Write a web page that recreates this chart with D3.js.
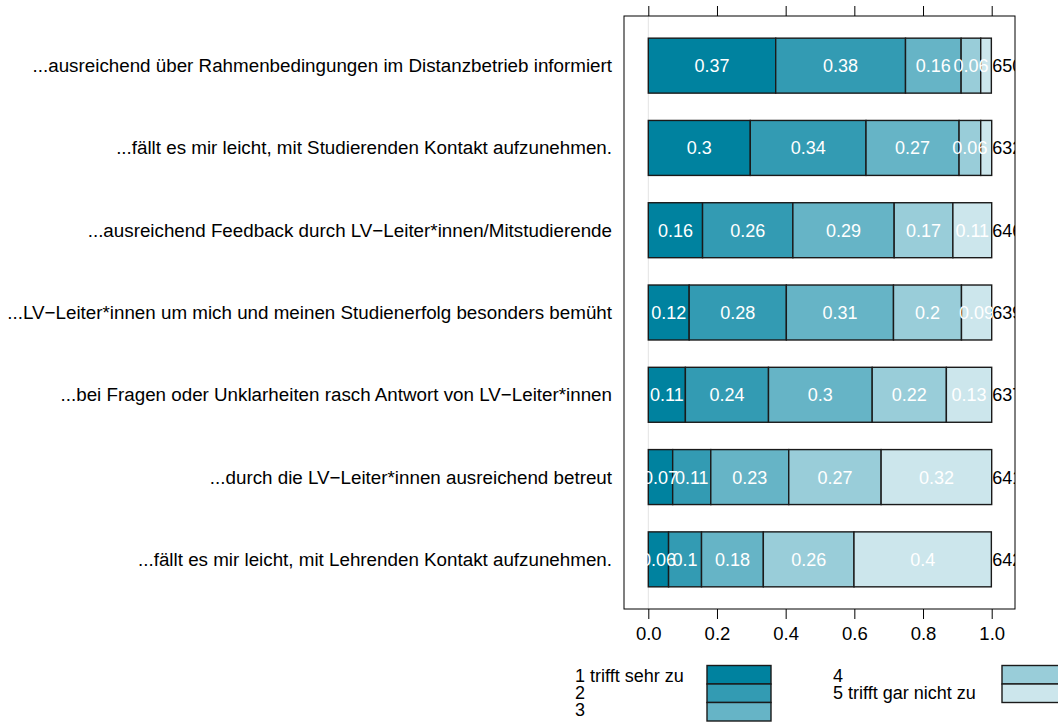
<!DOCTYPE html>
<html>
<head>
<meta charset="utf-8">
<script src="https://cdn.jsdelivr.net/npm/d3@7"></script>
<style>
  body { margin: 0; background: #fff; }
  svg { font-family: "Liberation Sans", Arial, Helvetica, sans-serif; }
</style>
</head>
<body>
<svg width="1058" height="722"></svg>
<script>
// items, top to bottom
var items = [
  "...ausreichend über Rahmenbedingungen im Distanzbetrieb informiert",
  "...fällt es mir leicht, mit Studierenden Kontakt aufzunehmen.",
  "...ausreichend Feedback durch LV\u2212Leiter*innen/Mitstudierende",
  "...LV\u2212Leiter*innen um mich und meinen Studienerfolg besonders bemüht",
  "...bei Fragen oder Unklarheiten rasch Antwort von LV\u2212Leiter*innen",
  "...durch die LV\u2212Leiter*innen ausreichend betreut",
  "...fällt es mir leicht, mit Lehrenden Kontakt aufzunehmen."
];
var counts = [650, 632, 646, 639, 637, 641, 642];

// shares per answer category (1..5), one value per item
var cat1 = [0.371, 0.297, 0.158, 0.119, 0.108, 0.071, 0.059];
var cat2 = [0.378, 0.337, 0.263, 0.283, 0.242, 0.111, 0.096];
var cat3 = [0.162, 0.271, 0.295, 0.312, 0.302, 0.227, 0.180];
var cat4 = [0.057, 0.063, 0.171, 0.198, 0.216, 0.269, 0.264];
var cat5 = [0.031, 0.032, 0.113, 0.088, 0.132, 0.322, 0.400];

var legendLabels = ["1 trifft sehr zu", "2", "3", "4", "5 trifft gar nicht zu"];
var colors = ["#00829f", "#339bb3", "#66b4c6", "#99cdd9", "#cce6ec"];
var xTicks = [0, 0.2, 0.4, 0.6, 0.8, 1.0];

var series = [cat1, cat2, cat3, cat4, cat5];
var fs = "18px";

var svg = d3.select("svg");

var box = { left: 624, right: 1015, top: 16, bottom: 609 };

var x = d3.scaleLinear().domain([0, 1]).range([648.3, 991.7]);
var y = d3.scaleBand().domain(items).range([24.5, 600.5])
    .paddingInner(0.332).paddingOuter(0.166);

// clip for the plot region
svg.append("defs").append("clipPath").attr("id", "plotclip")
  .append("rect")
    .attr("x", box.left).attr("y", box.top)
    .attr("width", box.right - box.left).attr("height", box.bottom - box.top);

var plot = svg.append("g").attr("clip-path", "url(#plotclip)");

// zero reference line
plot.append("line")
    .attr("x1", x(0)).attr("x2", x(0))
    .attr("y1", box.top).attr("y2", box.bottom)
    .attr("stroke", "#e3e3e3").attr("stroke-width", 1);

// stacked segments
var segs = [];
items.forEach(function(it, i) {
  var acc = 0;
  series.forEach(function(s, k) {
    segs.push({ item: it, k: k, x0: acc, x1: acc + s[i], v: s[i] });
    acc += s[i];
  });
});

plot.selectAll(".seg")
  .data(segs)
  .enter().append("rect")
    .attr("class", "seg")
    .attr("x", d => x(d.x0))
    .attr("y", d => y(d.item))
    .attr("width", d => x(d.x1) - x(d.x0))
    .attr("height", y.bandwidth())
    .attr("fill", d => colors[d.k])
    .attr("stroke", "#1a1a1a")
    .attr("stroke-width", 1.4);

plot.selectAll(".val")
  .data(segs.filter(d => d.v >= 0.05))
  .enter().append("text")
    .attr("class", "val")
    .attr("x", d => x((d.x0 + d.x1) / 2))
    .attr("y", d => y(d.item) + y.bandwidth() / 2 + 6.5)
    .attr("text-anchor", "middle")
    .attr("fill", "#fff")
    .style("font-size", fs)
    .text(d => String(+d.v.toFixed(2)));

plot.selectAll(".cnt")
  .data(items)
  .enter().append("text")
    .attr("class", "cnt")
    .attr("x", x(1) + 0.5)
    .attr("y", d => y(d) + y.bandwidth() / 2 + 6.5)
    .style("font-size", fs)
    .text((d, i) => counts[i]);

// frame
svg.append("rect")
    .attr("x", box.left).attr("y", box.top)
    .attr("width", box.right - box.left).attr("height", box.bottom - box.top)
    .attr("fill", "none").attr("stroke", "#000").attr("stroke-width", 1);

// bottom axis
var axB = svg.append("g")
    .attr("transform", "translate(0," + box.bottom + ")")
    .call(d3.axisBottom(x).tickValues(xTicks).tickFormat(d3.format(".1f"))
      .tickSize(10).tickPadding(8));
axB.select(".domain").remove();
axB.selectAll("text").attr("fill", "#000")
    .style("font-size", "18.5px")
    .style("font-family", "Liberation Sans, Arial, sans-serif");
axB.selectAll("line").attr("stroke", "#000");

// top ticks
var axT = svg.append("g")
    .attr("transform", "translate(0," + box.top + ")")
    .call(d3.axisTop(x).tickValues(xTicks).tickFormat("").tickSize(10));
axT.select(".domain").remove();
axT.selectAll("line").attr("stroke", "#000");

// item labels
svg.selectAll(".lab")
  .data(items)
  .enter().append("text")
    .attr("class", "lab")
    .attr("x", 612)
    .attr("y", d => y(d) + y.bandwidth() / 2 + 6.5)
    .attr("text-anchor", "end")
    .style("font-size", "18.8px")
    .text(d => d);

// legend
var legCols = [
  { tx: 575, bx: 707, keys: [0, 1, 2] },
  { tx: 833, bx: 1002, keys: [3, 4] }
];
legCols.forEach(function(c) {
  c.keys.forEach(function(k, j) {
    svg.append("rect")
        .attr("x", c.bx).attr("y", 665.5 + j * 18.5)
        .attr("width", 64).attr("height", 18.5)
        .attr("fill", colors[k]).attr("stroke", "#1a1a1a").attr("stroke-width", 1.4);
    svg.append("text")
        .attr("x", c.tx).attr("y", 682 + j * 17)
        .style("font-size", fs)
        .text(legendLabels[k]);
  });
});
</script>
</body>
</html>
